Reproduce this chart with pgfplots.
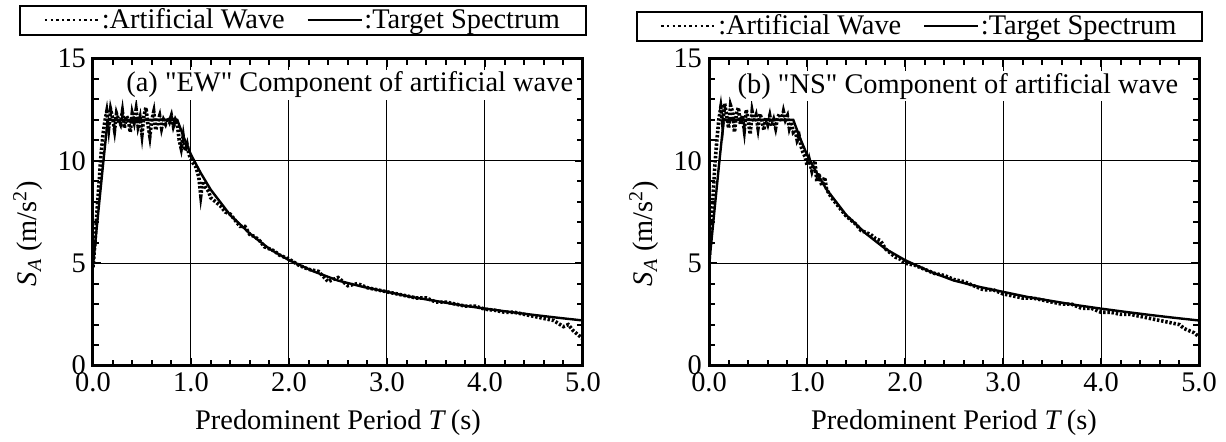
\documentclass[border=0pt]{standalone}
\usepackage{fontspec}
\setmainfont{Liberation Serif}
\usepackage{pgfplots}
\usepackage{pgfplotstable}
\pgfplotsset{compat=1.18}

\newcommand\fsz{\fontsize{14.2}{16}\selectfont}

% target spectrum (same for both components)
\pgfplotstableread{
T    SA
0.00 4.9
0.05 7.3
0.10 9.7
0.15 12.0
0.86 12.0
0.93 11.1
1.00 10.3
1.10 9.4
1.20 8.6
1.40 7.35
1.60 6.45
1.80 5.7
2.00 5.15
2.25 4.6
2.50 4.15
2.75 3.85
3.00 3.6
3.25 3.35
3.50 3.15
3.75 2.95
4.00 2.78
4.25 2.62
4.50 2.47
4.75 2.33
5.00 2.2
}\target

% artificial wave, EW
\pgfplotstableread{
T    SA
0.00 4.8
0.02 6.0
0.04 7.5
0.06 8.8
0.08 10.2
0.10 11.2
0.12 11.9
0.14 12.4
0.16 11.6
0.18 12.5
0.20 12.1
0.22 11.5
0.24 12.3
0.26 12.0
0.28 11.8
0.30 12.4
0.32 11.6
0.34 12.2
0.36 12.0
0.38 11.4
0.40 12.3
0.42 11.9
0.44 12.5
0.46 11.7
0.48 12.1
0.50 11.3
0.52 12.2
0.54 12.6
0.56 11.8
0.58 11.2
0.60 12.0
0.62 12.4
0.64 11.5
0.66 11.9
0.68 12.2
0.70 11.6
0.72 12.0
0.74 11.8
0.76 12.1
0.78 11.9
0.80 12.2
0.82 11.7
0.84 12.0
0.86 11.8
0.88 11.0
0.90 10.6
0.92 11.2
0.94 10.5
0.96 10.8
0.98 10.3
1.00 10.1
1.02 9.9
1.05 9.7
1.08 9.2
1.10 8.3
1.12 9.0
1.15 8.7
1.18 8.5
1.20 8.2
1.25 8.0
1.30 7.8
1.35 7.5
1.40 7.4
1.45 7.1
1.50 6.8
1.55 6.8
1.60 6.4
1.65 6.3
1.70 6.1
1.75 5.8
1.80 5.7
1.85 5.6
1.90 5.4
1.95 5.3
2.00 5.2
2.10 4.9
2.20 4.7
2.30 4.6
2.40 4.1
2.50 4.3
2.60 3.9
2.70 4.0
2.80 3.8
2.90 3.7
3.00 3.6
3.10 3.5
3.20 3.4
3.30 3.3
3.40 3.3
3.50 3.1
3.60 3.1
3.70 3.0
3.80 2.9
3.90 2.9
4.00 2.75
4.10 2.7
4.20 2.6
4.30 2.6
4.40 2.5
4.50 2.4
4.60 2.3
4.70 2.2
4.80 1.9
4.85 2.0
4.90 1.7
4.95 1.5
5.00 1.3
}\waveEW

% artificial wave, NS
\pgfplotstableread{
T    SA
0.00 5.0
0.02 6.5
0.04 8.2
0.06 9.8
0.08 11.0
0.10 12.0
0.12 12.6
0.14 11.8
0.16 12.8
0.18 12.2
0.20 11.6
0.22 12.7
0.24 12.4
0.26 11.4
0.28 12.3
0.30 12.6
0.32 11.8
0.34 12.2
0.36 11.5
0.38 12.5
0.40 12.0
0.42 11.3
0.44 12.4
0.46 11.9
0.48 12.2
0.50 11.6
0.52 12.3
0.54 12.0
0.56 11.5
0.58 12.1
0.60 11.8
0.62 12.2
0.64 11.7
0.66 12.0
0.68 11.6
0.70 12.1
0.72 12.3
0.74 11.9
0.76 12.4
0.78 12.0
0.80 12.2
0.82 11.6
0.84 11.9
0.86 11.4
0.88 11.5
0.90 11.0
0.92 11.2
0.94 10.7
0.96 10.4
0.98 10.2
1.00 9.8
1.02 10.1
1.05 9.5
1.08 10.0
1.10 9.0
1.12 9.4
1.15 8.8
1.18 9.2
1.20 8.6
1.25 8.2
1.30 7.9
1.35 7.6
1.40 7.3
1.45 7.1
1.50 6.9
1.55 6.6
1.60 6.5
1.65 6.4
1.70 6.2
1.75 6.1
1.80 5.7
1.85 5.5
1.90 5.3
1.95 5.2
2.00 5.0
2.10 4.9
2.20 4.7
2.30 4.5
2.40 4.4
2.50 4.2
2.60 4.1
2.70 3.9
2.80 3.7
2.90 3.7
3.00 3.5
3.10 3.4
3.20 3.3
3.30 3.3
3.40 3.2
3.50 3.1
3.60 3.0
3.70 3.0
3.80 2.8
3.90 2.8
4.00 2.6
4.10 2.6
4.20 2.5
4.30 2.5
4.40 2.4
4.50 2.3
4.60 2.2
4.70 2.1
4.80 2.0
4.85 1.8
4.90 1.7
4.95 1.6
5.00 1.4
}\waveNS

\pgfplotsset{
  panel/.style={
    scale only axis,
    width=245pt, height=153.5pt,
    anchor=south west,
    xmin=0, xmax=5, ymin=0, ymax=15,
    xtick={0,1,2,3,4,5}, ytick={0,5,10,15},
    minor x tick num=4, minor y tick num=4,
    tick align=inside, xtick pos=both, ytick pos=both,
    major tick length=4pt, minor tick length=3pt,
    every tick/.append style={black, line width=1pt},
    axis line style={line width=1.5pt},
    grid=major,
    major grid style={black, line width=0.5pt},
    /pgf/number format/assume math mode=true,
    xticklabel style={/pgf/number format/.cd, fixed, fixed zerofill, precision=1},
    ticklabel style={font=\fsz},
    label style={font=\fsz},
    xlabel={Predominent Period \textit{T}\,(s)},
    ylabel={\textit{S}\textsubscript{\textit{A}} (m/s\textsuperscript{2})},
    ylabel style={at={(axis description cs:-0.088,0.43)}},
    xlabel style={yshift=-2pt},
    legend columns=2,
    legend cell align=left,
    legend style={
      draw=black, line width=1pt, font=\fsz, anchor=center,
      inner ysep=0pt, inner xsep=12pt,
      nodes={inner xsep=1pt, inner ysep=1.5pt},
      /tikz/every even column/.append style={column sep=10pt},
    },
  },
  wave/.style={black, line width=1.8pt, dash pattern=on 1.2pt off 0.9pt,
    legend image code/.code={\draw[black, line width=0.8pt, dash pattern=on 1.2pt off 1.6pt] (0pt,0pt) -- (27pt,0pt);}},
  targ/.style={black, line width=1.2pt,
    legend image code/.code={\draw[black, line width=0.8pt] (0pt,0pt) -- (27pt,0pt);}},
}

\begin{document}
\begin{tikzpicture}
\useasboundingbox (0pt,0pt) rectangle (613pt,220.5pt);

\begin{axis}[panel, at={(46.5pt,37.75pt)},
  legend style={at={(axis description cs:0.4286,1.125)}}]
\addplot[wave] table[x=T, y=SA] {\waveEW};
\addplot[targ] table[x=T, y=SA] {\target};
\legend{:Artificial Wave, :Target Spectrum}
\node[fill=white, inner sep=1pt, font=\fsz] at (axis description cs:0.524,0.915)
  {(a) \textquotedbl EW\textquotedbl\ Component of artificial wave};
\end{axis}

\begin{axis}[panel, at={(354.5pt,37.75pt)},
  legend style={at={(axis description cs:0.4296,1.105)}}]
\addplot[wave] table[x=T, y=SA] {\waveNS};
\addplot[targ] table[x=T, y=SA] {\target};
\legend{:Artificial Wave, :Target Spectrum}
\node[fill=white, inner sep=1pt, font=\fsz] at (axis description cs:0.508,0.91)
  {(b) \textquotedbl NS\textquotedbl\ Component of artificial wave};
\end{axis}
\end{tikzpicture}
\end{document}
